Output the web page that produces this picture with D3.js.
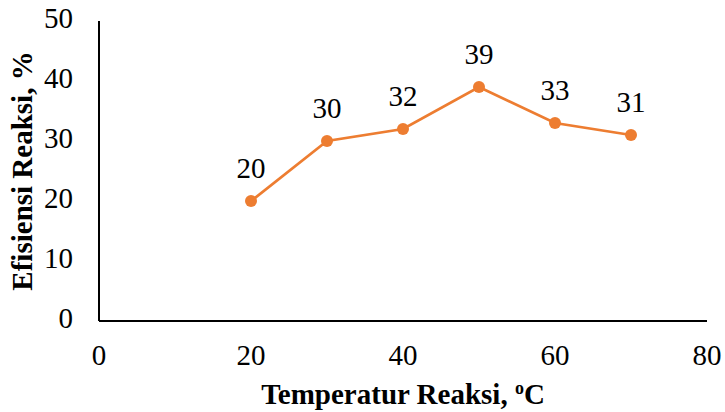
<!DOCTYPE html>
<html>
<head>
<meta charset="utf-8">
<script src="https://cdn.jsdelivr.net/npm/d3@7"></script>
<style>
  body { margin: 0; background: #fff; }
</style>
</head>
<body>
<div id="chart"></div>
<script>
var temps = [20, 30, 40, 50, 60, 70];
var effs = [20, 30, 32, 39, 33, 31];
var xTicks = [0, 20, 40, 60, 80];
var yTicks = [0, 10, 20, 30, 40, 50];

var width = 725, height = 412;
var margin = {top: 21, right: 18, bottom: 91, left: 99};
var font = "'Liberation Serif', 'Times New Roman', 'DejaVu Serif', serif";
const fontSize = 29;

var svg = d3.select("#chart").append("svg")
    .attr("width", width)
    .attr("height", height)
    .attr("font-family", font);

var x = d3.scaleLinear().domain([0, 80]).range([margin.left, width - margin.right]);
var y = d3.scaleLinear().domain([0, 50]).range([height - margin.bottom, margin.top]);

// axes lines
svg.append("line")
    .attr("x1", x(0)).attr("x2", x(0))
    .attr("y1", y(50)).attr("y2", y(0))
    .attr("stroke", "#000").attr("stroke-width", 2);
svg.append("line")
    .attr("x1", x(0)).attr("x2", x(80))
    .attr("y1", y(0)).attr("y2", y(0))
    .attr("stroke", "#000").attr("stroke-width", 2);

// tick labels
svg.selectAll(".ylab").data(yTicks).enter().append("text")
    .attr("x", x(0) - 26)
    .attr("y", (d) => y(d) + 7)
    .attr("text-anchor", "end")
    .attr("font-size", fontSize + "px")
    .text((d) => d);

svg.selectAll(".xlab").data(xTicks).enter().append("text")
    .attr("x", (d) => x(d))
    .attr("y", y(0) + 44)
    .attr("text-anchor", "middle")
    .attr("font-size", fontSize + "px")
    .text((d) => d);

// titles
var xt = svg.append("text")
    .attr("x", (x(0) + x(80)) / 2)
    .attr("y", 404)
    .attr("text-anchor", "middle")
    .attr("font-size", fontSize + "px")
    .attr("font-weight", "bold");
xt.append("tspan").text("Temperatur Reaksi, ");
xt.append("tspan").attr("font-size", "18px").attr("dy", "-10").text("o");
xt.append("tspan").attr("dy", "10").text("C");

svg.append("text")
    .attr("transform", "translate(32," + ((y(0) + y(50)) / 2) + ") rotate(-90)")
    .attr("text-anchor", "middle")
    .attr("font-size", fontSize + "px")
    .attr("font-weight", "bold")
    .text("Efisiensi Reaksi, %");

// series
var line = d3.line()
    .x((d, i) => x(temps[i]))
    .y((d) => y(d));

svg.append("path")
    .datum(effs)
    .attr("d", line)
    .attr("fill", "none")
    .attr("stroke", "#ED7D31")
    .attr("stroke-width", 2.75);

svg.selectAll(".pt").data(effs).enter().append("circle")
    .attr("cx", (d, i) => x(temps[i]))
    .attr("cy", (d) => y(d))
    .attr("r", 6)
    .attr("fill", "#ED7D31");

svg.selectAll(".dl").data(effs).enter().append("text")
    .attr("x", (d, i) => x(temps[i]))
    .attr("y", (d) => y(d) - 23)
    .attr("text-anchor", "middle")
    .attr("font-size", fontSize + "px")
    .text((d) => d);
</script>
</body>
</html>
